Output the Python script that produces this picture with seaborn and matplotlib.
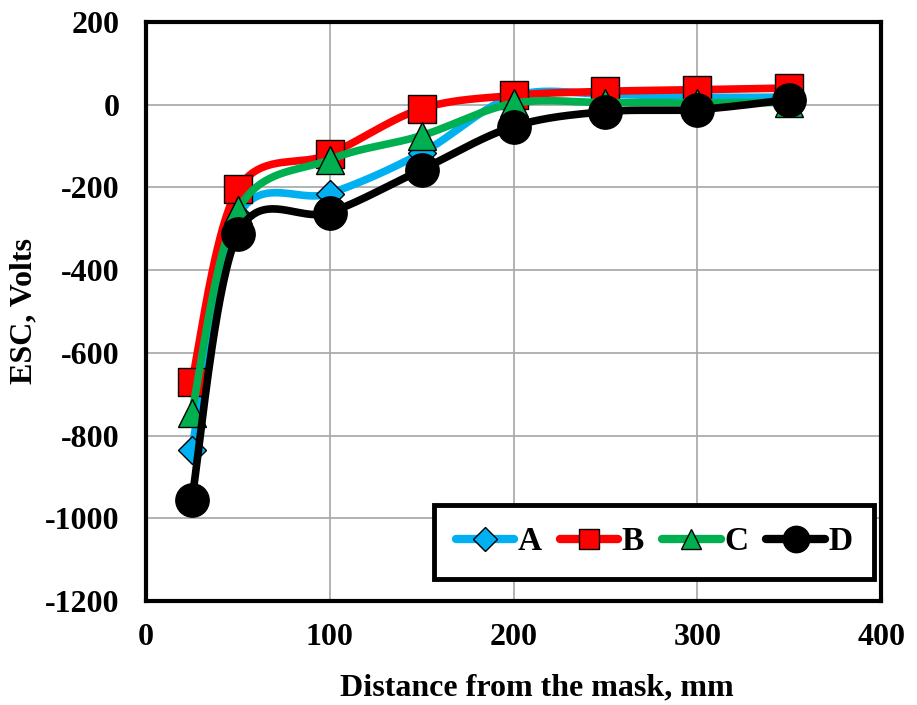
import numpy as np
import pandas as pd
import matplotlib
matplotlib.use("Agg")
import matplotlib.pyplot as plt
import seaborn as sns
from matplotlib.lines import Line2D

distance = [25, 50, 100, 150, 200, 250, 300, 350]
esc_A = [-835, -270, -215, -117, 20, 25, 18, 18]
esc_B = [-670, -205, -120, -10, 22, 32, 36, 40]
esc_C = [-745, -255, -133, -75, 3, 5, 5, 5]
esc_D = [-955, -313, -261, -157, -53, -17, -12, 12]
series_names = ["A", "B", "C", "D"]
x_ticks = [0, 100, 200, 300, 400]
y_ticks = [-1200, -1000, -800, -600, -400, -200, 0, 200]

colors = {"A": "#00B0F0", "B": "#FF0000", "C": "#00B050", "D": "#000000"}
markers = {"A": "D", "B": "s", "C": "^", "D": "o"}
msize = {"A": 14, "B": 20, "C": 20, "D": 24}

sns.set_style("white")
plt.rcParams["font.family"] = ["Liberation Serif", "DejaVu Serif"]
plt.rcParams["font.weight"] = "bold"
plt.rcParams["text.color"] = "black"
plt.rcParams["axes.labelcolor"] = "black"
plt.rcParams["xtick.color"] = "black"
plt.rcParams["ytick.color"] = "black"

fig = plt.figure(figsize=(9.17, 7.05), dpi=100)
ax = fig.add_axes([0.159, 0.1475, 0.802, 0.8215])
ax.set_xlim(0, 400)
ax.set_ylim(-1200, 200)

# screen-space scale for smoothing (pixels per unit)
sx, sy = 735 / 400, 579 / 1400


def smooth(xs, ys, n=40):
    P = np.column_stack([np.array(xs, float) * sx, np.array(ys, float) * sy])
    pts = []
    m = len(P)
    for i in range(m - 1):
        p0 = P[i - 1] if i > 0 else P[i]
        p1 = P[i]
        p2 = P[i + 1]
        p3 = P[i + 2] if i + 2 < m else P[i + 1]
        b1 = p1 + (p2 - p0) / 6
        b2 = p2 - (p3 - p1) / 6
        t = np.linspace(0, 1, n)[:, None]
        seg = ((1 - t) ** 3) * p1 + 3 * ((1 - t) ** 2) * t * b1 + 3 * (1 - t) * t ** 2 * b2 + t ** 3 * p2
        pts.append(seg if i == 0 else seg[1:])
    S = np.vstack(pts)
    return S[:, 0] / sx, S[:, 1] / sy


data = {"A": esc_A, "B": esc_B, "C": esc_C, "D": esc_D}
for k, name in enumerate(series_names):
    xs, ys = smooth(distance, data[name])
    df = pd.DataFrame({"x": xs, "y": ys})
    sns.lineplot(data=df, x="x", y="y", sort=False, ax=ax, color=colors[name],
                 lw=5.5, solid_capstyle="round", zorder=3 + k * 2, estimator=None)
    ax.plot(distance, data[name], linestyle="none", marker=markers[name],
            markersize=msize[name], markerfacecolor=colors[name],
            markeredgecolor="black", markeredgewidth=1.0, zorder=4 + k * 2)

ax.set_xticks(x_ticks)
ax.set_yticks(y_ticks)
ax.set_xticklabels([str(v) for v in x_ticks], fontsize=23, fontweight="bold")
ax.set_yticklabels([str(v) for v in y_ticks], fontsize=23, fontweight="bold")
ax.tick_params(axis="x", length=0, pad=16)
ax.tick_params(axis="y", length=0, pad=19)
ax.grid(True, color="#A6A6A6", lw=1.2)
ax.set_axisbelow(True)
for sp in ax.spines.values():
    sp.set_color("black")
    sp.set_linewidth(3)

ax.set_xlabel("Distance from the mask, mm", fontsize=23, fontweight="bold")
ax.xaxis.set_label_coords(0.531, -0.125)
ax.set_ylabel("ESC, Volts", fontsize=23, fontweight="bold", labelpad=5)

handles = []
lsize = {"A": 12, "B": 15, "C": 15, "D": 19}
for name in series_names:
    handles.append(Line2D([0], [0], color=colors[name], lw=6, solid_capstyle="round",
                          marker=markers[name], markersize=lsize[name],
                          markerfacecolor=colors[name], markeredgecolor="black",
                          markeredgewidth=1.0))
leg = ax.legend(handles, series_names, ncol=4, loc="lower right",
                bbox_to_anchor=(0.99, 0.038), borderaxespad=0, frameon=True, fancybox=False,
                framealpha=1, handlelength=1.75, handletextpad=0.1, columnspacing=0.55,
                borderpad=0.65, prop={"family": "Liberation Serif", "weight": "bold", "size": 24})
leg.get_frame().set_edgecolor("black")
leg.get_frame().set_linewidth(3.5)
leg.set_zorder(20)

fig.savefig("out.png", dpi=100)
